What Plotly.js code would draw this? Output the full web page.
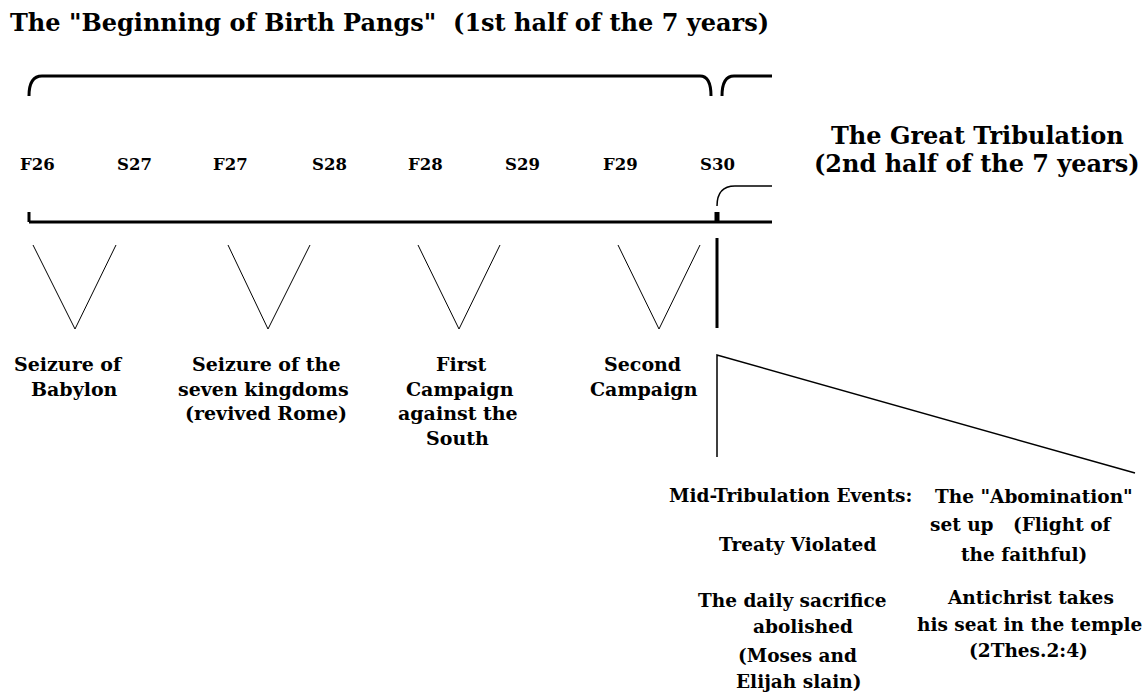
<!DOCTYPE html>
<html><head><meta charset="utf-8">
<script src="https://cdn.plot.ly/plotly-3.0.1.min.js"></script>
<style>html,body{margin:0;padding:0;background:#fff}#c{width:1146px;height:694px}</style>
</head><body><div id="c"></div>
<script>
// ---- content ----
const chartTitle = 'The "Beginning of Birth Pangs"  (1st half of the 7 years)';
const periods = ['F26','S27','F27','S28','F28','S29','F29','S30'];
const firstHalfEvents = [
  ['Seizure of','Babylon'],
  ['Seizure of the','seven kingdoms','(revived Rome)'],
  ['First','Campaign','against the','South'],
  ['Second','Campaign']
];
const secondHalfTitle = ['The Great Tribulation','(2nd half of the 7 years)'];
const midHeading = 'Mid-Tribulation Events:';
const midLeft = [['Treaty Violated'],['The daily sacrifice','abolished','(Moses and','Elijah slain)']];
const midRight = [['The "Abomination"','set up   (Flight of','the faithful)'],['Antichrist takes','his seat in the temple','(2Thes.2:4)']];

// ---- geometry (pixel space) ----
const G = {
  periodX: [37,134,230,329,425,522,620,717], periodY: 164,
  lineY: 222, lineX0: 29, lineX1: 772, midX: 717,
  vees: [[33,75,116],[228,268,310],[418,459,500],[618,659,700]], veeTop: 245, veeBot: 329,
  eventX: [[68,74],[266,263,266],[461,460,458,457],[642,644]], eventY0: 364, eventDy: 24.5,
  trib: {x: 977, y: [135,163]},
  tri: {x0: 717, y0: 355, y1: 457, x1: 1135, y2: 473},
  midHead: {x: 790, y: 495},
  leftX: [[797],[792,803,797,798]], leftY: [[544],[600,626,655,681]],
  rightX: [[1034,1021,1024],[1030,1029,1028]], rightY: [[496,524,554],[597,624,650]]
};
const FONT = 'DejaVu Serif';
const ann = [];
function txt(x,y,t,size){ann.push({x:x,y:y,xref:'x',yref:'y',text:t,showarrow:false,xanchor:'center',yanchor:'middle',font:{family:FONT,size:size,color:'#000',weight:'bold'}});}

periods.forEach((p,i)=>txt(G.periodX[i],G.periodY,p,16.5));
firstHalfEvents.forEach((lines,i)=>lines.forEach((l,j)=>txt(G.eventX[i][j],G.eventY0+j*G.eventDy,l,19)));
secondHalfTitle.forEach((l,j)=>txt(G.trib.x,G.trib.y[j],l,24));
txt(G.midHead.x,G.midHead.y,midHeading,18.5);
midLeft.forEach((b,k)=>b.forEach((l,j)=>txt(G.leftX[k][j],G.leftY[k][j],l,18.5)));
midRight.forEach((b,k)=>b.forEach((l,j)=>txt(G.rightX[k][j],G.rightY[k][j],l,18.5)));

const traces = G.vees.map(v=>({x:[v[0],v[1],v[2]],y:[G.veeTop,G.veeBot,G.veeTop],mode:'lines',line:{color:'#000',width:1},hoverinfo:'skip'}));
traces.push({x:[G.tri.x0,G.tri.x0,G.tri.x1],y:[G.tri.y1,G.tri.y0,G.tri.y2],mode:'lines',line:{color:'#000',width:1.5},hoverinfo:'skip'});

const shapes = [
  {type:'path',path:'M 29 96 Q 29 76 42 76 L 700 76 Q 711 76 711 96',line:{color:'#000',width:3}},
  {type:'path',path:'M 722 96 Q 722 76 734 76 L 772 76',line:{color:'#000',width:3}},
  {type:'path',path:'M 717 206 Q 717 186 735 186 L 772 186',line:{color:'#000',width:1.5}},
  {type:'line',x0:G.lineX0,x1:G.lineX1,y0:G.lineY,y1:G.lineY,line:{color:'#000',width:3}},
  {type:'line',x0:29,x1:29,y0:212,y1:222,line:{color:'#000',width:3}},
  {type:'line',x0:G.midX,x1:G.midX,y0:212,y1:222,line:{color:'#000',width:5}},
  {type:'line',x0:G.midX,x1:G.midX,y0:238,y1:328,line:{color:'#000',width:3}}
];

Plotly.newPlot('c',traces,{
  width:1146,height:694,margin:{l:0,r:0,t:0,b:0},showlegend:false,
  paper_bgcolor:'#fff',plot_bgcolor:'#fff',
  title:{text:chartTitle,x:10/1146,xanchor:'left',xref:'paper',yref:'container',y:1-23/694,yanchor:'middle',font:{family:FONT,size:24,color:'#000',weight:'bold'}},
  xaxis:{range:[0,1146],visible:false,fixedrange:true},
  yaxis:{range:[694,0],visible:false,fixedrange:true},
  shapes:shapes,annotations:ann
},{staticPlot:true});
</script></body></html>
